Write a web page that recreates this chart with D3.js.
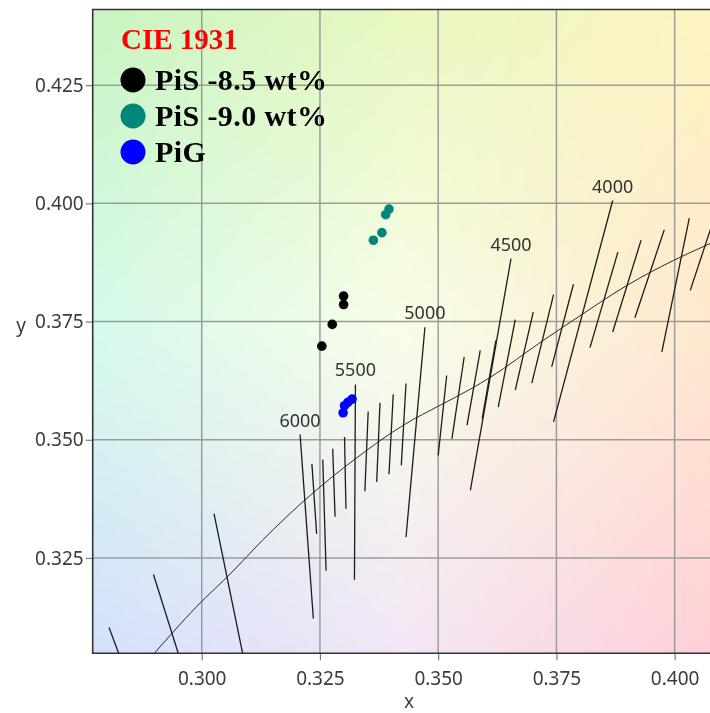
<!DOCTYPE html>
<html>
<head>
<meta charset="utf-8">
<script src="https://cdn.jsdelivr.net/npm/d3@7"></script>
<style>
body { margin: 0; background: #fff; }
#wrap { position: relative; width: 710px; height: 713px; overflow: hidden; }
#bg, #chart { position: absolute; left: 0; top: 0; }
</style>
</head>
<body>
<div id="wrap">
<canvas id="bg" width="710" height="713"></canvas>
<svg id="chart" width="710" height="713"></svg>
</div>
<script>
// ticks
let xTicks = [0.300, 0.325, 0.350, 0.375, 0.400];
let yTicks = [0.325, 0.350, 0.375, 0.400, 0.425];

// measured samples
let seriesNames = ["PiS -8.5 wt%", "PiS -9.0 wt%", "PiG"];
let seriesColors = ["#000000", "#00877c", "#0000ff"];
let pis85 = [[0.3300, 0.3804], [0.3300, 0.3786], [0.3276, 0.3744], [0.3254, 0.3698]];
let pis90 = [[0.3396, 0.3988], [0.3389, 0.3976], [0.3381, 0.3938], [0.3363, 0.3922]];
let pig = [[0.3318, 0.3586], [0.3309, 0.3579], [0.3302, 0.3572], [0.3299, 0.3557]];

// reference locus (x, y)
let locus = [
    [0.2891, 0.3038], [0.2990, 0.3148], [0.3064, 0.3220], [0.3128, 0.3287],
    [0.3237, 0.3389], [0.3324, 0.3459], [0.3430, 0.3533], [0.3504, 0.3573],
    [0.3568, 0.3607], [0.3610, 0.3632], [0.3722, 0.3710], [0.3804, 0.3765],
    [0.3900, 0.3827], [0.3997, 0.3879], [0.4075, 0.3915], [0.4139, 0.3943]
];

// isotherms: [T, x1, y1, x2, y2]
let isotherms = [
    [10000, 0.2804, 0.3103, 0.2838, 0.3012],
    [8000, 0.2898, 0.3215, 0.2965, 0.3002],
    [7000, 0.3026, 0.3344, 0.3096, 0.3002],
    [6000, 0.3208, 0.3511, 0.3236, 0.3122],
    [5900, 0.3233, 0.3449, 0.3243, 0.3301],
    [5800, 0.3256, 0.3458, 0.3263, 0.3223],
    [5700, 0.3277, 0.3481, 0.3282, 0.3337],
    [5600, 0.3302, 0.3506, 0.3305, 0.3354],
    [5500, 0.3325, 0.3617, 0.3323, 0.3204],
    [5400, 0.3352, 0.3560, 0.3345, 0.3391],
    [5300, 0.3377, 0.3578, 0.3370, 0.3411],
    [5200, 0.3405, 0.3596, 0.3396, 0.3427],
    [5100, 0.3432, 0.3619, 0.3422, 0.3446],
    [5000, 0.3472, 0.3738, 0.3432, 0.3294],
    [4900, 0.3518, 0.3636, 0.3500, 0.3467],
    [4800, 0.3555, 0.3675, 0.3529, 0.3502],
    [4700, 0.3589, 0.3689, 0.3561, 0.3531],
    [4600, 0.3622, 0.3710, 0.3593, 0.3545],
    [4500, 0.3654, 0.3883, 0.3568, 0.3393],
    [4400, 0.3663, 0.3754, 0.3627, 0.3569],
    [4300, 0.3701, 0.3770, 0.3663, 0.3605],
    [4200, 0.3744, 0.3807, 0.3698, 0.3620],
    [4100, 0.3786, 0.3829, 0.3740, 0.3654],
    [4000, 0.3869, 0.4006, 0.3744, 0.3538],
    [3900, 0.3880, 0.3897, 0.3821, 0.3695],
    [3800, 0.3929, 0.3922, 0.3869, 0.3728],
    [3700, 0.3978, 0.3944, 0.3916, 0.3758],
    [3600, 0.4031, 0.3969, 0.3973, 0.3686],
    [3500, 0.4096, 0.4006, 0.4033, 0.3816]
];
let isoLabels = [6000, 5500, 5000, 4500, 4000];

// background tint, 3x3 grid from top-left to bottom-right
let bgGrid = [
    ["#c9f4c2", "#e8f8c0", "#fff4c0"],
    ["#d6faec", "#f8fde8", "#ffe8cf"],
    ["#d3e0fc", "#f3e6f6", "#ffcfd7"]
];

let plotLeft = 92.7, plotTop = 9.5, plotBottom = 653.3, plotRight = 712;

let xScale = d3.scaleLinear().domain([0.27695, 0.4079]).range([plotLeft, plotRight]);
let yScale = d3.scaleLinear().domain([0.30484, 0.4410]).range([plotBottom, plotTop]);

// ---- background ----
let ctx = document.getElementById("bg").getContext("2d");
let img = ctx.createImageData(710, 713);
let grid = bgGrid.map(r => r.map(c => d3.rgb(c)));
function lerp(a, b, t) { return a + (b - a) * t; }
for (let py = Math.floor(plotTop); py < plotBottom; py++) {
    let v = Math.max(0, Math.min(2, (py - plotTop) / (plotBottom - plotTop) * 2));
    let r0 = Math.min(1, Math.floor(v)), tv = v - r0;
    for (let px = Math.floor(plotLeft); px < 710; px++) {
        let u = Math.max(0, Math.min(2, (px - plotLeft) / (710 - plotLeft) * 2));
        let c0 = Math.min(1, Math.floor(u)), tu = u - c0;
        let a = grid[r0][c0], b = grid[r0][c0 + 1], c = grid[r0 + 1][c0], d = grid[r0 + 1][c0 + 1];
        let i = (py * 710 + px) * 4;
        img.data[i] = lerp(lerp(a.r, b.r, tu), lerp(c.r, d.r, tu), tv);
        img.data[i + 1] = lerp(lerp(a.g, b.g, tu), lerp(c.g, d.g, tu), tv);
        img.data[i + 2] = lerp(lerp(a.b, b.b, tu), lerp(c.b, d.b, tu), tv);
        img.data[i + 3] = 255;
    }
}
ctx.putImageData(img, 0, 0);

let svg = d3.select("#chart");

svg.append("clipPath").attr("id", "plotClip")
    .append("rect")
    .attr("x", plotLeft).attr("y", plotTop)
    .attr("width", plotRight - plotLeft).attr("height", plotBottom - plotTop);

// grid lines
let gridG = svg.append("g").attr("clip-path", "url(#plotClip)");
gridG.selectAll(".vgrid").data(xTicks).enter().append("line")
    .attr("x1", d => xScale(d)).attr("x2", d => xScale(d))
    .attr("y1", plotTop).attr("y2", plotBottom)
    .attr("stroke", "#9c9c9c").attr("stroke-width", 1.5);
gridG.selectAll(".hgrid").data(yTicks).enter().append("line")
    .attr("x1", plotLeft).attr("x2", plotRight)
    .attr("y1", d => yScale(d)).attr("y2", d => yScale(d))
    .attr("stroke", "#9c9c9c").attr("stroke-width", 1.5);

// locus and isotherms
let curveG = svg.append("g").attr("clip-path", "url(#plotClip)");
curveG.append("path")
    .datum(locus)
    .attr("d", d3.line().x(d => xScale(d[0])).y(d => yScale(d[1])).curve(d3.curveMonotoneX))
    .attr("fill", "none").attr("stroke", "#2a2a2a").attr("stroke-width", 1);
curveG.selectAll(".iso").data(isotherms).enter().append("line")
    .attr("x1", d => xScale(d[1])).attr("y1", d => yScale(d[2]))
    .attr("x2", d => xScale(d[3])).attr("y2", d => yScale(d[4]))
    .attr("stroke", "#1c1c1c").attr("stroke-width", 1.3);
curveG.selectAll(".isoLabel").data(isotherms.filter(d => isoLabels.includes(d[0]))).enter().append("text")
    .attr("x", d => xScale(d[1])).attr("y", d => yScale(d[2]) - 8)
    .attr("text-anchor", "middle")
    .style("font-family", "'Noto Sans', sans-serif").style("font-size", "18px")
    .style("fill", "#333")
    .text(d => d[0]);

// data points
let allSeries = [pis85, pis90, pig];
allSeries.forEach(function(s, k) {
    svg.append("g").selectAll("circle").data(s).enter().append("circle")
        .attr("cx", d => xScale(d[0])).attr("cy", d => yScale(d[1]))
        .attr("r", 4.8)
        .attr("fill", seriesColors[k]);
});

// axes
let xAxis = d3.axisBottom(xScale).tickValues(xTicks).tickFormat(d3.format(".3f")).tickSize(7).tickPadding(11);
let yAxis = d3.axisLeft(yScale).tickValues(yTicks).tickFormat(d3.format(".3f")).tickSize(7).tickPadding(2);
let xg = svg.append("g").attr("transform", "translate(0," + plotBottom + ")").call(xAxis);
let yg = svg.append("g").attr("transform", "translate(" + plotLeft + ",0)").call(yAxis);
[xg, yg].forEach(function(g) {
    g.select(".domain").remove();
    g.selectAll(".tick line").attr("stroke", "#7a7a7a").attr("stroke-width", 1.2);
    g.selectAll(".tick text")
        .style("font-family", "'Noto Sans', sans-serif").style("font-size", "19px")
        .style("fill", "#3c3c3c");
});

// frame
svg.append("path")
    .attr("d", "M" + plotRight + "," + plotTop + "H" + plotLeft + "V" + plotBottom + "H" + plotRight)
    .attr("fill", "none").attr("stroke", "#333").attr("stroke-width", 1.6);

// axis titles
svg.append("text").attr("x", 409).attr("y", 708).attr("text-anchor", "middle")
    .style("font-family", "'Noto Sans', sans-serif").style("font-size", "19px").style("fill", "#3c3c3c")
    .text("x");
svg.append("text").attr("x", 21).attr("y", 332).attr("text-anchor", "middle")
    .style("font-family", "'Noto Sans', sans-serif").style("font-size", "19px").style("fill", "#3c3c3c")
    .text("y");

// legend
let serif = "'Liberation Serif', 'Times New Roman', serif";
svg.append("text").attr("x", 121).attr("y", 49)
    .style("font-family", serif).style("font-weight", "bold").style("font-size", "29px")
    .style("fill", "#ff0000").text("CIE 1931");
let legend = svg.append("g").selectAll("g").data(seriesNames).enter().append("g")
    .attr("transform", (d, i) => "translate(133," + (80 + i * 36) + ")");
legend.append("circle").attr("r", 12.5).attr("fill", (d, i) => seriesColors[i]);
legend.append("text").attr("x", 22).attr("y", 9.5)
    .style("font-family", serif).style("font-weight", "bold").style("font-size", "30px")
    .style("letter-spacing", "0.4px")
    .style("fill", "#000").text(d => d);
</script>
</body>
</html>
